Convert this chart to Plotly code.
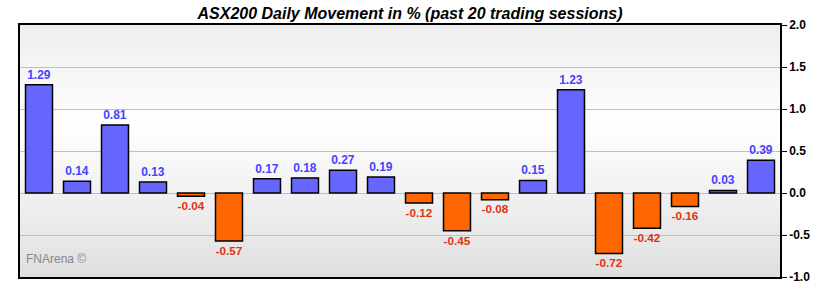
import plotly.graph_objects as go

sessions = list(range(1, 21))
moves = [1.29, 0.14, 0.81, 0.13, -0.04, -0.57, 0.17, 0.18, 0.27, 0.19,
         -0.12, -0.45, -0.08, 0.15, 1.23, -0.72, -0.42, -0.16, 0.03, 0.39]
y_ticks = [-1.0, -0.5, 0.0, 0.5, 1.0, 1.5, 2.0]
title_text = "ASX200 Daily Movement in % (past 20 trading sessions)"
watermark = "FNArena ©"

bar_colors = ["#6666ff" if v >= 0 else "#ff6600" for v in moves]
text_colors = ["#4444ff" if v >= 0 else "#dd3311" for v in moves]

fig = go.Figure()
fig.add_trace(go.Bar(
    x=sessions, y=moves,
    marker=dict(color=bar_colors, line=dict(color="#000000", width=1.5)),
    texttemplate="%{y:.2f}", textposition="outside",
    textfont=dict(color=text_colors, size=12, family="Liberation Sans, Arial", weight="bold"),
    cliponaxis=False, width=0.71,
))

# gradient background bands
n = 60
shapes = []
for i in range(n):
    t = (i + 0.5) / n  # 0 bottom -> 1 top
    if t > 0.6:
        f = (t - 0.6) / 0.4
        c = 255 - 17 * f
    else:
        f = (0.6 - t) / 0.6
        c = 255 - 32 * f
    c = int(round(c))
    shapes.append(dict(type="rect", xref="paper", yref="paper", x0=0, x1=1,
                       y0=i / n, y1=(i + 1) / n + 0.002, fillcolor=f"rgb({c},{c},{c})",
                       line=dict(width=0), layer="below"))

fig.update_layout(
    width=820, height=290,
    margin=dict(l=20, r=40, t=25, b=13, autoexpand=False),
    paper_bgcolor="#ffffff", plot_bgcolor="rgba(0,0,0,0)",
    showlegend=False,
    shapes=shapes,
    bargap=0.29,
    title=dict(text="<b><i>" + title_text + "</i></b>", x=0.5, xanchor="center",
               y=0.955, yanchor="middle",
               font=dict(size=16, family="Liberation Sans, Arial", color="#000000")),
    font=dict(family="Liberation Sans, Arial"),
    annotations=[dict(text=watermark, xref="paper", yref="paper", x=0.005, y=0.035,
                      xanchor="left", yanchor="bottom", showarrow=False,
                      font=dict(size=12, color="#888888", family="Liberation Sans, Arial"))],
)
fig.update_xaxes(range=[0.5, 20.5], showticklabels=False, ticks="", showgrid=False,
                 zeroline=False, showline=True, linecolor="#000000", linewidth=1.5, mirror=True,
                 automargin=False)
fig.update_yaxes(range=[-1.0, 2.0], side="right", tickvals=y_ticks,
                 ticktext=[f"{v:.1f}" for v in y_ticks],
                 ticks="outside", ticklen=5, tickcolor="#000000",
                 tickfont=dict(size=12, color="#000000", family="Liberation Sans, Arial", weight="bold"),
                 showgrid=True, gridcolor="#c0c0c0", gridwidth=1,
                 zeroline=True, zerolinecolor="#c0c0c0", zerolinewidth=1,
                 showline=True, linecolor="#000000", linewidth=1.5, mirror=True,
                 automargin=False)

fig.write_html("out.html")
